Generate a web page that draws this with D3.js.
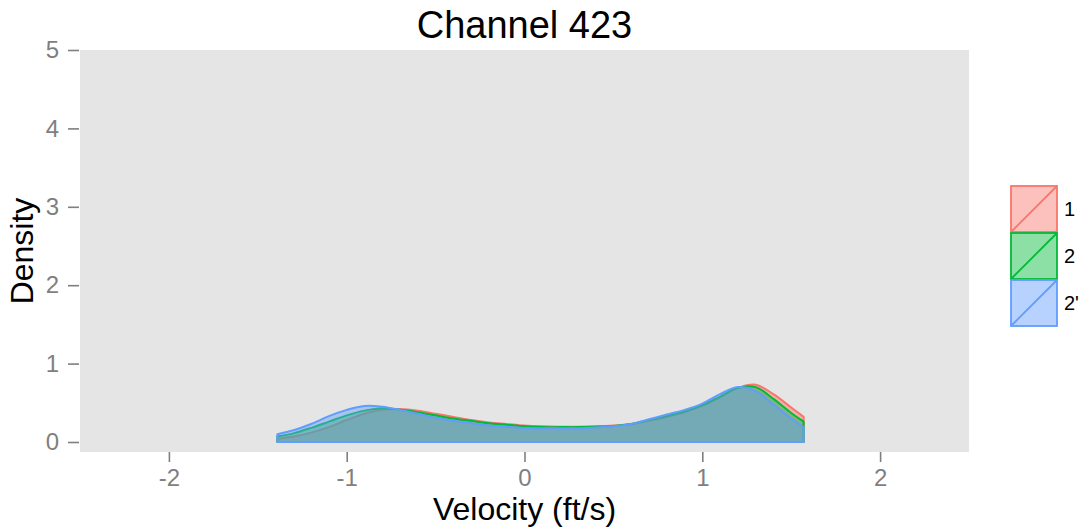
<!DOCTYPE html>
<html>
<head>
<meta charset="utf-8">
<script src="https://cdn.jsdelivr.net/npm/d3@7"></script>
<style>
  body { margin: 0; background: #fff; }
  text { font-family: "Liberation Sans", Arial, sans-serif; }
</style>
</head>
<body>
<div id="chart"></div>
<script>
// velocity grid (ft/s) and density of each group
var velocity = [-1.39, -1.3, -1.2, -1.1, -1.0, -0.9, -0.8, -0.7, -0.6, -0.5, -0.4, -0.3, -0.2, -0.1, 0,
                0.1, 0.2, 0.3, 0.4, 0.5, 0.6, 0.7, 0.8, 0.9, 1.0, 1.1, 1.2, 1.3, 1.4, 1.5, 1.57];
var density1 = [0.04, 0.07, 0.12, 0.19, 0.28, 0.36, 0.41, 0.42, 0.40, 0.36, 0.32, 0.28, 0.25, 0.23, 0.21,
                0.20, 0.195, 0.195, 0.20, 0.21, 0.23, 0.27, 0.32, 0.38, 0.46, 0.57, 0.69, 0.73, 0.61, 0.44, 0.32];
var density2 = [0.07, 0.11, 0.18, 0.26, 0.34, 0.40, 0.43, 0.41, 0.38, 0.34, 0.30, 0.27, 0.24, 0.22, 0.20,
                0.19, 0.19, 0.19, 0.195, 0.205, 0.23, 0.28, 0.33, 0.39, 0.47, 0.58, 0.69, 0.70, 0.55, 0.37, 0.26];
var density2p = [0.10, 0.15, 0.23, 0.33, 0.41, 0.46, 0.45, 0.41, 0.36, 0.31, 0.27, 0.24, 0.21, 0.195, 0.18,
                 0.175, 0.175, 0.175, 0.185, 0.20, 0.23, 0.29, 0.35, 0.41, 0.49, 0.61, 0.70, 0.65, 0.48, 0.30, 0.19];
var groups = ["1", "2", "2'"];
var groupColors = ["#F8766D", "#00BA38", "#619CFF"];
var xTicks = [-2, -1, 0, 1, 2];
var yTicks = [0, 1, 2, 3, 4, 5];

var series = [density1, density2, density2p];

var width = 1082, height = 532;
var panel = { left: 80, right: 969, top: 50, bottom: 452 };

var svg = d3.select("#chart").append("svg")
  .attr("width", width)
  .attr("height", height);

var x = d3.scaleLinear().domain([-2.5, 2.5]).range([panel.left, panel.right]);
var y = d3.scaleLinear().domain([0, 5]).range([442, panel.top]);

// grey panel
svg.append("rect")
  .attr("x", panel.left)
  .attr("y", panel.top)
  .attr("width", panel.right - panel.left)
  .attr("height", panel.bottom - panel.top)
  .attr("fill", "#E5E5E5");

// density areas
var area = d3.area()
  .x(d => x(d[0]))
  .y0(y(0))
  .y1(d => y(d[1]))
  .curve(d3.curveCatmullRom);

series.forEach(function(vals, i) {
  var pts = velocity.map((v, j) => [v, vals[j]]);
  svg.append("path")
    .datum(pts)
    .attr("d", area)
    .attr("fill", groupColors[i])
    .attr("fill-opacity", 0.45)
    .attr("stroke", groupColors[i])
    .attr("stroke-width", 2)
    .attr("stroke-linejoin", "round");
});

// axes
var xAxis = d3.axisBottom(x).tickValues(xTicks).tickFormat(d => String(d)).tickSize(10).tickPadding(7);
var yAxis = d3.axisLeft(y).tickValues(yTicks).tickFormat(d => String(d)).tickSize(11).tickPadding(9);

var gx = svg.append("g")
  .attr("transform", `translate(0, ${panel.bottom})`)
  .call(xAxis);
var gy = svg.append("g")
  .attr("transform", `translate(${panel.left - 1}, 0)`)
  .call(yAxis);

[gx, gy].forEach(function(g) {
  g.select(".domain").remove();
  g.selectAll(".tick line").attr("stroke", "#7F7F7F").attr("stroke-width", 1.6);
  g.selectAll(".tick text")
    .attr("fill", "#7F7F7F")
    .style("font-size", "24px")
    .style("font-family", "'Liberation Sans', Arial, sans-serif");
});

// titles
svg.append("text")
  .attr("x", (panel.left + panel.right) / 2)
  .attr("y", 38)
  .attr("text-anchor", "middle")
  .style("font-size", "38px")
  .text("Channel 423");

svg.append("text")
  .attr("x", (panel.left + panel.right) / 2)
  .attr("y", 520)
  .attr("text-anchor", "middle")
  .style("font-size", "32px")
  .text("Velocity (ft/s)");

svg.append("text")
  .attr("transform", `translate(33, ${(panel.top + panel.bottom) / 2}) rotate(-90)`)
  .attr("text-anchor", "middle")
  .style("font-size", "32px")
  .text("Density");

// legend
var keySize = 46;
var legend = svg.append("g").attr("transform", "translate(1011, 186)");
groups.forEach(function(g, i) {
  var k = legend.append("g").attr("transform", `translate(0, ${i * (keySize + 1)})`);
  k.append("rect")
    .attr("width", keySize)
    .attr("height", keySize)
    .attr("fill", groupColors[i])
    .attr("fill-opacity", 0.45)
    .attr("stroke", groupColors[i])
    .attr("stroke-width", 1.8);
  k.append("line")
    .attr("x1", 0).attr("y1", keySize)
    .attr("x2", keySize).attr("y2", 0)
    .attr("stroke", groupColors[i])
    .attr("stroke-width", 1.8);
  k.append("text")
    .attr("x", keySize + 7)
    .attr("y", keySize / 2 + 7)
    .style("font-size", "20px")
    .text(g);
});
</script>
</body>
</html>
